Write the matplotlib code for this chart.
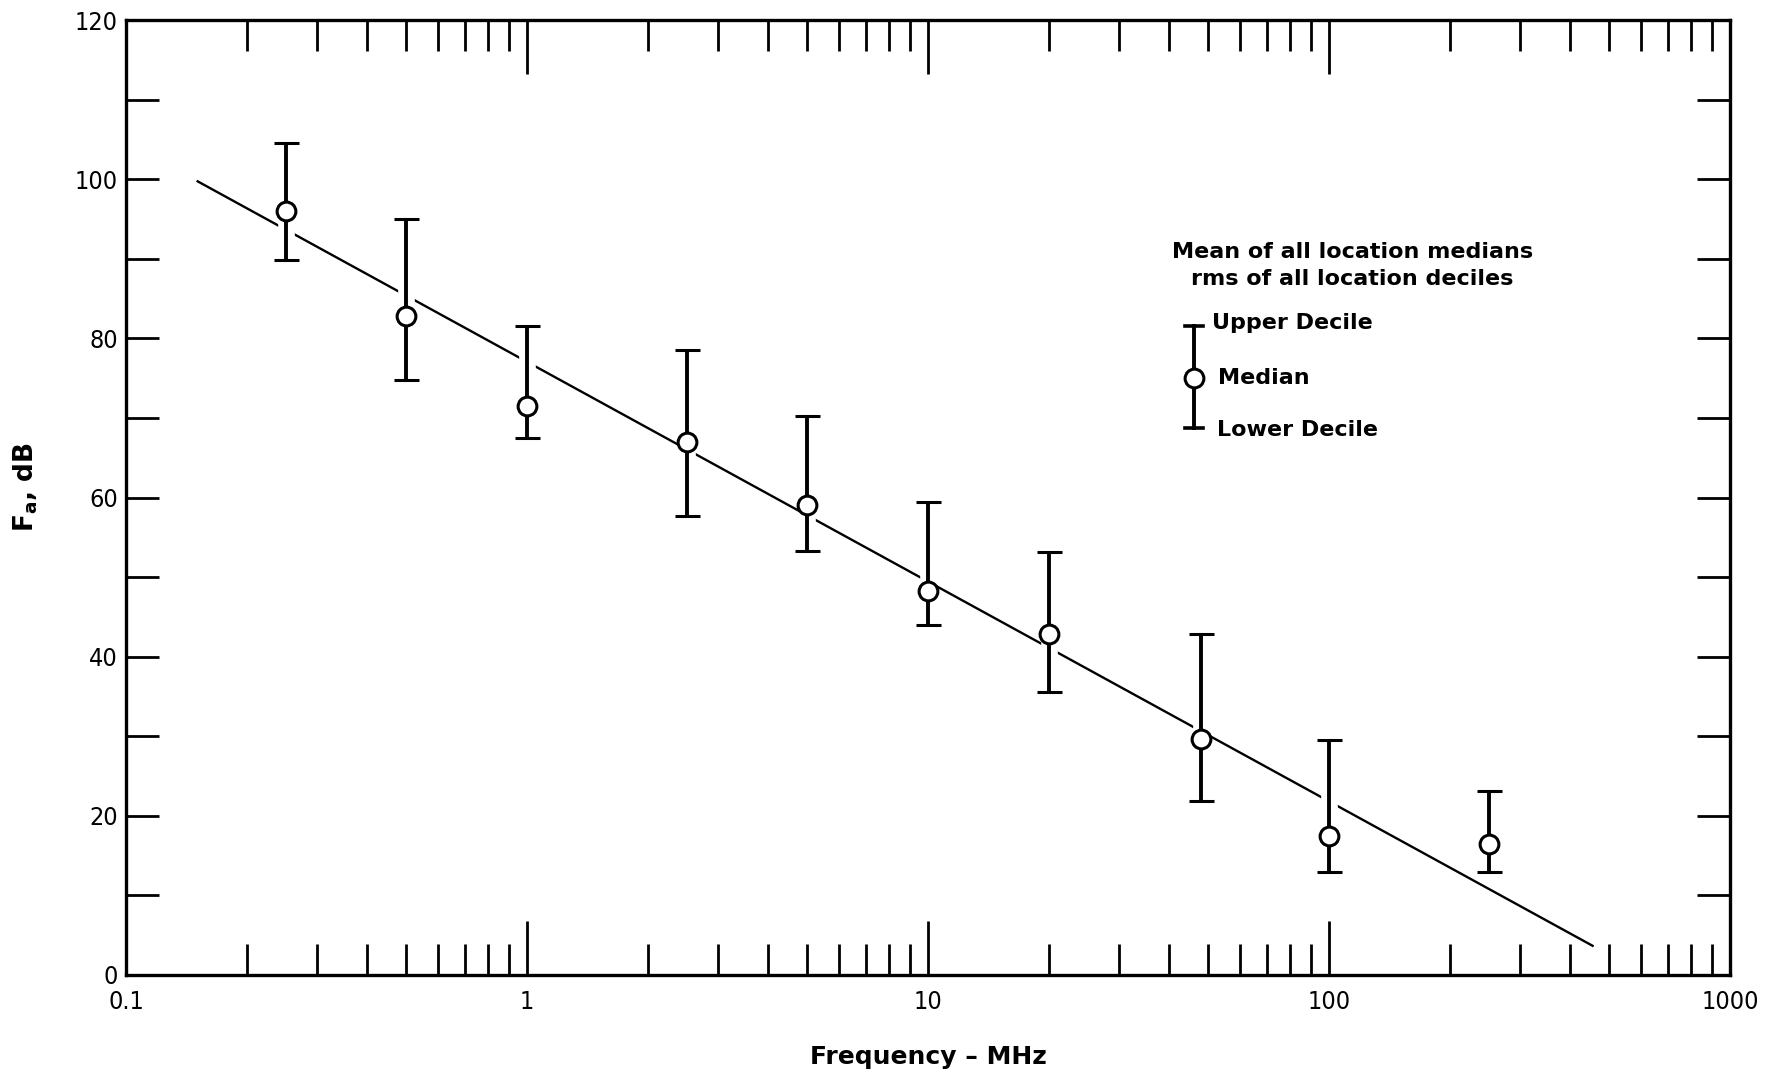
import numpy as np
import matplotlib
matplotlib.use("Agg")
import matplotlib.pyplot as plt
import matplotlib.patheffects as pe
from matplotlib.ticker import FixedLocator, NullFormatter, LogLocator

# ---- data ----
freq_mhz = [0.25, 0.5, 1.0, 2.5, 5.0, 10.0, 20.0, 48.0, 100.0, 250.0]
median_db = [96.0, 82.8, 71.5, 67.0, 59.1, 48.2, 42.9, 29.6, 17.5, 16.5]
upper_decile_db = [104.5, 95.0, 81.5, 78.5, 70.3, 59.4, 53.2, 42.8, 29.5, 23.1]
lower_decile_db = [89.8, 74.8, 67.5, 57.7, 53.3, 44.0, 35.5, 21.9, 13.0, 13.0]

fit_freq_mhz = [0.15, 457.0]
fit_db = [99.8, 3.6]

x_tick_values = [0.1, 1, 10, 100, 1000]
x_tick_labels = ["0.1", "1", "10", "100", "1000"]
y_tick_values = [0, 20, 40, 60, 80, 100, 120]
y_tick_labels = ["0", "20", "40", "60", "80", "100", "120"]

legend_title = ["Mean of all location medians", "rms of all location deciles"]
legend_labels = ["Upper Decile", "Median", "Lower Decile"]

# ---- figure ----
W, H = 1778, 1076
fig = plt.figure(figsize=(W / 100, H / 100), dpi=100)
L, R, T, B = 126, 1730, 20, 975
ax = fig.add_axes([L / W, 1 - B / H, (R - L) / W, (B - T) / H])

ax.set_xscale("log")
ax.set_xlim(0.1, 1000)
ax.set_ylim(0, 120)

# fitted line
ax.plot(fit_freq_mhz, fit_db, color="black", lw=1.7, zorder=2, solid_capstyle="butt")

# error bars with medians
yerr = [np.array(median_db) - np.array(lower_decile_db),
        np.array(upper_decile_db) - np.array(median_db)]
eb = ax.errorbar(freq_mhz, median_db, yerr=yerr, fmt="o", color="black",
                 ecolor="black", elinewidth=2.8, capsize=9, capthick=2.6,
                 markersize=13.5, markerfacecolor="white", markeredgecolor="black",
                 markeredgewidth=2.2, zorder=3)
for coll in eb[2]:
    coll.set_path_effects([pe.Stroke(linewidth=12, foreground="white"), pe.Normal()])
eb[0].set_zorder(5)

# ticks
tick_font = dict(family="DejaVu Sans", stretch="condensed", size=18)
ax.xaxis.set_major_locator(FixedLocator(x_tick_values))
ax.xaxis.set_minor_locator(LogLocator(base=10, subs=np.arange(2, 10)))
ax.xaxis.set_minor_formatter(NullFormatter())
ax.set_xticks(x_tick_values)
ax.set_xticklabels(x_tick_labels, fontdict=tick_font)
ax.set_yticks(y_tick_values)
ax.set_yticklabels(y_tick_labels, fontdict=tick_font)
ax.set_yticks(np.arange(10, 120, 20), minor=True)

ax.tick_params(axis="both", which="both", direction="in", top=True, right=True,
               width=2.0, color="black")
ax.tick_params(axis="x", which="major", length=39, pad=11)
ax.tick_params(axis="x", which="minor", length=22)
ax.tick_params(axis="y", which="both", length=24, pad=6)

for s in ax.spines.values():
    s.set_linewidth(2.4)

# axis labels
ax.set_xlabel("Frequency – MHz", fontsize=18, fontweight="bold", family="DejaVu Sans")
ax.xaxis.set_label_coords(0.5, (B - 1057) / (B - T))
ax.set_ylabel(r"F$_\mathregular{a}$, dB", fontsize=19, fontweight="bold", family="DejaVu Sans")
ax.yaxis.set_label_coords((26 - L) / (R - L), (B - 487) / (B - T))
ax.xaxis.label.set_verticalalignment("center")
ax.yaxis.label.set_verticalalignment("center")

# legend (drawn in axes fractions)
def fx(px):
    return (px - L) / (R - L)

def fy(py):
    return (B - py) / (B - T)

tfont = dict(fontsize=16, fontweight="bold", family="DejaVu Sans")
ax.text(fx(1353), fy(258), legend_title[0], ha="center", va="baseline", transform=ax.transAxes, **tfont)
ax.text(fx(1352), fy(285), legend_title[1], ha="center", va="baseline", transform=ax.transAxes, **tfont)

bx = fx(1194)
ax.plot([bx, bx], [fy(326), fy(428)], transform=ax.transAxes, color="black", lw=2.8, zorder=4)
cap = 9 / (R - L)
for yy in (fy(326), fy(428)):
    ax.plot([bx - cap, bx + cap], [yy, yy], transform=ax.transAxes, color="black", lw=2.6, zorder=4)
ax.plot([bx], [fy(378)], transform=ax.transAxes, marker="o", markersize=13.5,
        markerfacecolor="white", markeredgecolor="black", markeredgewidth=2.2, zorder=5)
ax.text(fx(1212), fy(323), legend_labels[0], ha="left", va="center", transform=ax.transAxes, **tfont)
ax.text(fx(1218), fy(378), legend_labels[1], ha="left", va="center", transform=ax.transAxes, **tfont)
ax.text(fx(1217), fy(430), legend_labels[2], ha="left", va="center", transform=ax.transAxes, **tfont)

fig.savefig("out.png", dpi=100, facecolor="white")
